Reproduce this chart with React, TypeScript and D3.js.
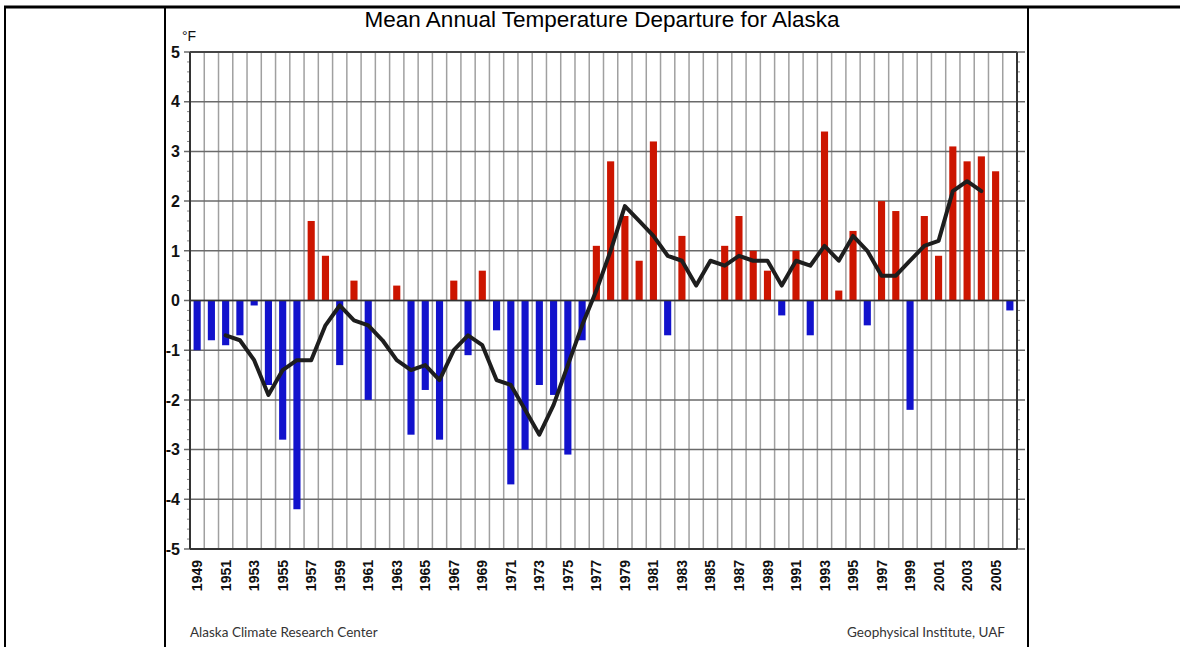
import React from "react";
import * as d3 from "d3";

const years: number[] = d3.range(1949, 2007);
const departures: number[] = [
  -1.0, -0.8, -0.9, -0.7, -0.1, -1.7, -2.8, -4.2, 1.6, 0.9,
  -1.3, 0.4, -2.0, 0.0, 0.3, -2.7, -1.8, -2.8, 0.4, -1.1,
  0.6, -0.6, -3.7, -3.0, -1.7, -1.9, -3.1, -0.8, 1.1, 2.8,
  1.7, 0.8, 3.2, -0.7, 1.3, 0.0, 0.0, 1.1, 1.7, 1.0,
  0.6, -0.3, 1.0, -0.7, 3.4, 0.2, 1.4, -0.5, 2.0, 1.8,
  -2.2, 1.7, 0.9, 3.1, 2.8, 2.9, 2.6, -0.2,
];
const meanYears: number[] = d3.range(1951, 2005);
const meanValues: number[] = [
  -0.7, -0.8, -1.2, -1.9, -1.4, -1.2, -1.2, -0.5, -0.1, -0.4,
  -0.5, -0.8, -1.2, -1.4, -1.3, -1.6, -1.0, -0.7, -0.9, -1.6,
  -1.7, -2.2, -2.7, -2.1, -1.3, -0.5, 0.2, 1.0, 1.9, 1.6,
  1.3, 0.9, 0.8, 0.3, 0.8, 0.7, 0.9, 0.8, 0.8, 0.3,
  0.8, 0.7, 1.1, 0.8, 1.3, 1.0, 0.5, 0.5, 0.8, 1.1,
  1.2, 2.2, 2.4, 2.2,
];
const yTicks: number[] = [5, 4, 3, 2, 1, 0, -1, -2, -3, -4, -5];
const labelYears: number[] = years.filter((y) => y % 2 === 1);

const W = 1180;
const H = 647;
const left = 190;
const right = 1017;
const top = 52;
const bottom = 549;

export default function App() {
  const x = d3
    .scaleBand<number>()
    .domain(years)
    .range([left, right])
    .padding(0);
  const y = d3.scaleLinear().domain([-5, 5]).range([bottom, top]);
  const bw = x.bandwidth();
  const cx = (yr: number) => (x(yr) as number) + bw / 2;
  const line = d3
    .line<number>()
    .x((_, i) => cx(meanYears[i]))
    .y((d) => y(d));
  const minor = d3.range(-5, 5.001, 0.2).filter((v) => Math.abs(v - Math.round(v)) > 0.01);
  const boundaries = years.slice(1).map((yr) => x(yr) as number);
  const sans = "Liberation Sans, Arial, sans-serif";

  return (
    <svg
      width={W}
      height={H}
      style={{ position: "absolute", left: 0, top: 0, background: "#fff" }}
    >
      {/* page frame */}
      <line x1={4} x2={W} y1={7} y2={7} stroke="#000" strokeWidth={3} />
      <line x1={5} x2={5} y1={6} y2={H} stroke="#000" strokeWidth={2} />
      <line x1={165} x2={165} y1={6} y2={H} stroke="#000" strokeWidth={2} />
      <line x1={1028} x2={1028} y1={6} y2={H} stroke="#000" strokeWidth={2} />

      {/* vertical grid */}
      {boundaries.map((bx, i) => (
        <line key={"vg" + i} x1={bx} x2={bx} y1={top} y2={bottom} stroke="#a0a0a0" strokeWidth={1.5} />
      ))}
      {/* horizontal grid */}
      {yTicks.map((t) => (
        <line key={"hg" + t} x1={left - 6} x2={right + 8} y1={y(t)} y2={y(t)} stroke="#6a6a6a" strokeWidth={1.5} />
      ))}
      {/* minor ticks */}
      {minor.map((t, i) => (
        <g key={"mt" + i}>
          <line x1={left - 3} x2={left} y1={y(t)} y2={y(t)} stroke="#888" strokeWidth={1} />
          <line x1={right} x2={right + 3} y1={y(t)} y2={y(t)} stroke="#888" strokeWidth={1} />
        </g>
      ))}

      {/* bars */}
      {departures.map((v, i) => {
        const yr = years[i];
        const w = bw * 0.5;
        const y0 = y(0);
        const yv = y(v);
        return (
          <rect
            key={"b" + yr}
            x={cx(yr) - w / 2}
            y={Math.min(y0, yv)}
            width={w}
            height={Math.abs(yv - y0)}
            fill={v >= 0 ? "#cc1500" : "#1212cc"}
          />
        );
      })}

      {/* zero line */}
      <line x1={left} x2={right} y1={y(0)} y2={y(0)} stroke="#333" strokeWidth={1.5} />

      {/* axes box */}
      <line x1={left} x2={left} y1={top} y2={bottom} stroke="#333" strokeWidth={2} />
      <line x1={right} x2={right} y1={top} y2={bottom} stroke="#333" strokeWidth={2} />
      <line x1={left} x2={right} y1={top} y2={top} stroke="#444" strokeWidth={2} />
      <line x1={left} x2={right} y1={bottom} y2={bottom} stroke="#333" strokeWidth={2} />

      {/* running mean */}
      <path
        d={line(meanValues) || ""}
        fill="none"
        stroke="#1e1e1e"
        strokeWidth={4}
        strokeLinejoin="round"
        strokeLinecap="round"
      />

      {/* y labels */}
      {yTicks.map((t) => (
        <text
          key={"yl" + t}
          x={180}
          y={y(t)}
          dy="0.36em"
          textAnchor="end"
          fontFamily={sans}
          fontSize={16}
          fontWeight="bold"
          fill="#111"
        >
          {t}
        </text>
      ))}
      <text x={182} y={41} fontFamily={sans} fontSize={14} fill="#111">
        °F
      </text>

      {/* x labels */}
      {labelYears.map((yr) => (
        <text
          key={"xl" + yr}
          transform={`translate(${cx(yr)},560) rotate(-90)`}
          dy="0.36em"
          textAnchor="end"
          fontFamily={sans}
          fontSize={14}
          fontWeight="bold"
          fill="#111"
        >
          {yr}
        </text>
      ))}

      {/* title */}
      <text
        x={602}
        y={27}
        textAnchor="middle"
        fontFamily={sans}
        fontSize={22.5}
        fill="#000"
      >
        Mean Annual Temperature Departure for Alaska
      </text>

      {/* footer */}
      <text x={190} y={637} fontFamily="Lato, sans-serif" fontSize={13.5} fill="#333">
        Alaska Climate Research Center
      </text>
      <text x={1005} y={637} textAnchor="end" fontFamily="Lato, sans-serif" fontSize={13.5} fill="#333">
        Geophysical Institute, UAF
      </text>
    </svg>
  );
}
